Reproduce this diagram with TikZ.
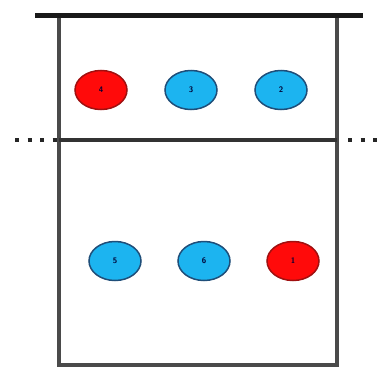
\documentclass[tikz,border=0pt]{standalone}
\usetikzlibrary{shapes.geometric}
\definecolor{pred}{HTML}{FF0A0A}
\definecolor{predb}{HTML}{A01010}
\definecolor{pblue}{HTML}{1CB4F0}
\definecolor{pblueb}{HTML}{1F4E79}
\definecolor{court}{HTML}{4A4A4A}
\begin{document}
\begin{tikzpicture}[x=1pt,y=-1pt,
  player/.style={ellipse, minimum width=52pt, minimum height=39pt, inner sep=0pt,
    line width=1.5pt, font=\sffamily\bfseries\fontsize{8}{9}\selectfont, text=black!80!blue},
  redp/.style={player, fill=pred, draw=predb},
  bluep/.style={player, fill=pblue, draw=pblueb},
  courtline/.style={draw=court, line width=4pt},
  dotline/.style={draw=black!85, line width=4pt, dash pattern=on 4pt off 8.5pt}]
\useasboundingbox (0,0) rectangle (388,367);
\fill[white] (0,0) rectangle (388,367);
% court
\draw[courtline] (59,15) -- (59,365) -- (337,365) -- (337,15);
% net / top line
\draw[line width=5pt, draw=black!90] (35,15) -- (363,15);
% attack line
\draw[line width=4pt, draw=black!80] (59,140) -- (337,140);
\draw[dotline] (15,140) -- (57,140);
\draw[dotline] (348,140) -- (380,140);
% players
\node[redp]  (p4) at (101,90) {4};
\node[bluep] (p3) at (191,90) {3};
\node[bluep] (p2) at (281,90) {2};
\node[bluep] (p5) at (115,261) {5};
\node[bluep] (p6) at (204,261) {6};
\node[redp]  (p1) at (293,261) {1};
\end{tikzpicture}
\end{document}
